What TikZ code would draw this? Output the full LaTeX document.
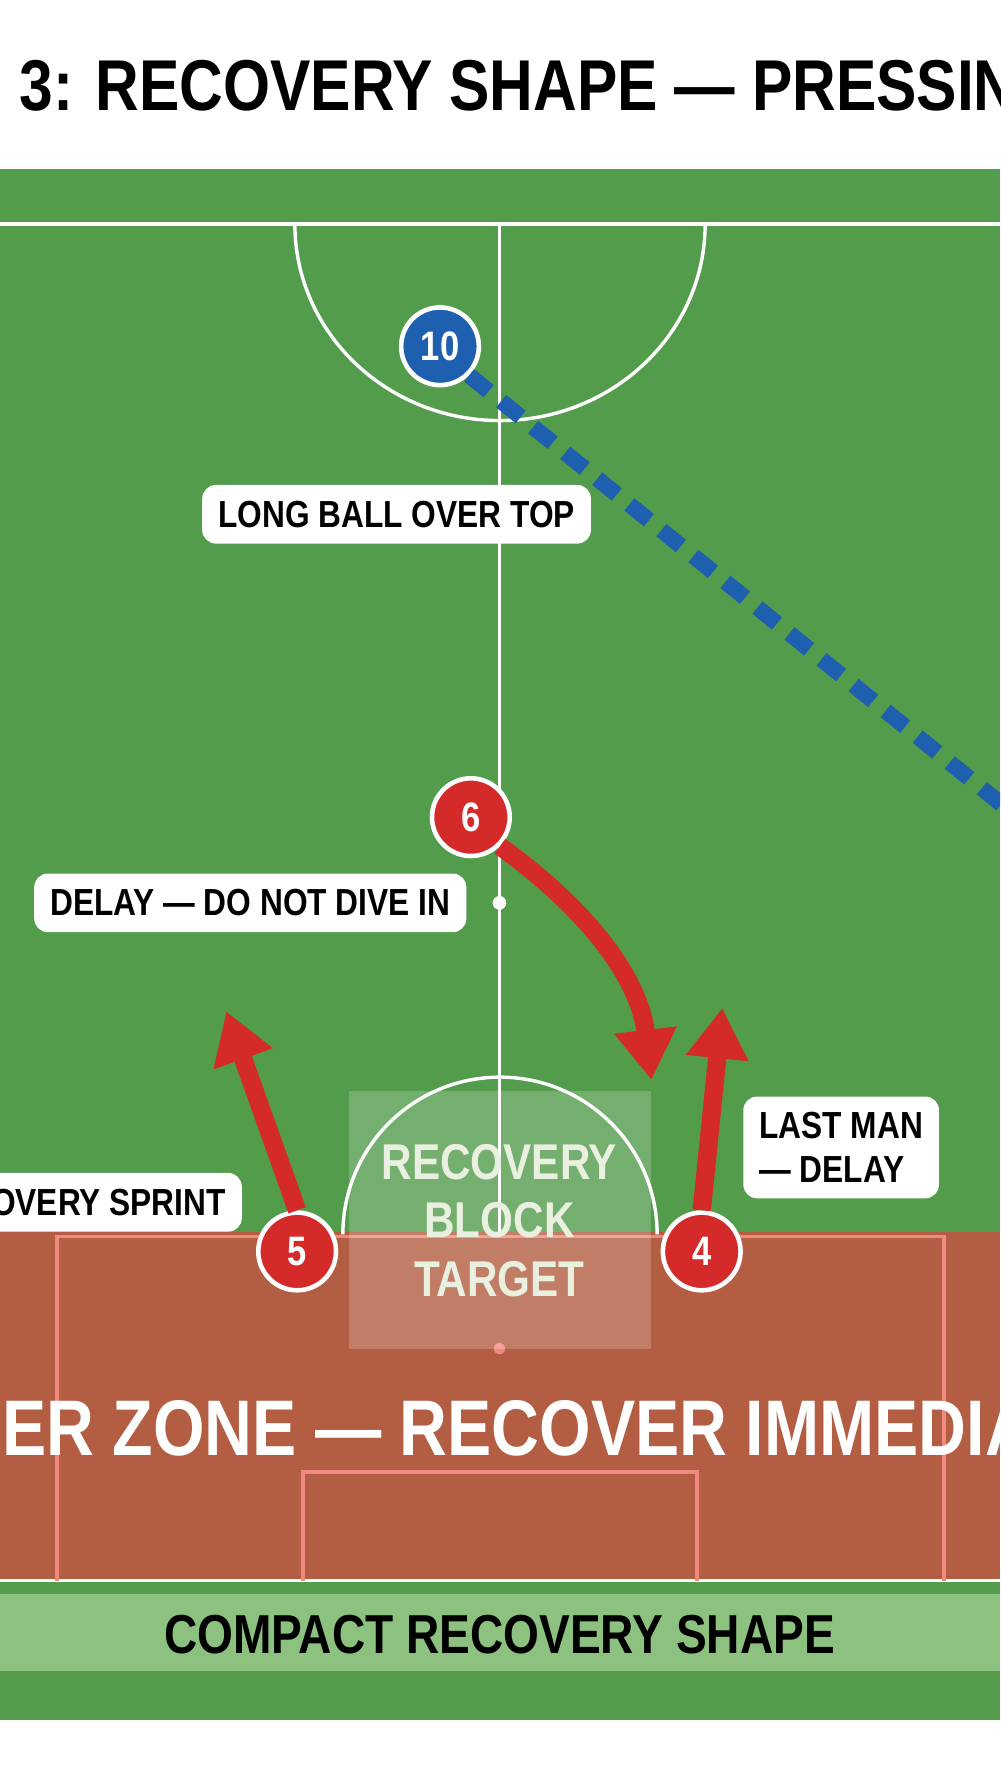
\documentclass[tikz,border=0pt]{standalone}
\usepackage{fontspec}
\setmainfont[FakeStretch=0.84]{Liberation Sans}
\usetikzlibrary{arrows.meta}
\definecolor{field}{HTML}{529C4B}
\definecolor{stripe}{HTML}{8DC17F}
\definecolor{danger}{HTML}{B35D42}
\definecolor{pink}{HTML}{F08A80}
\definecolor{pred}{HTML}{D42A2A}
\definecolor{pblue}{HTML}{1F5FB0}
\definecolor{tgt}{HTML}{EAF0DF}
\tikzset{
  lbl/.style={fill=white,rounded corners=6pt,inner xsep=7pt,inner ysep=7pt,font=\fontsize{16.5}{19}\selectfont\bfseries,align=left},
  pl/.style={circle,draw=white,line width=2pt,minimum size=34pt,inner sep=0pt,text=white,font=\fontsize{18}{18}\selectfont\bfseries},
  arr/.style={pred,line width=8pt,-{Triangle[length=22pt,width=26pt]}},
  wl/.style={white,line width=1.5pt}
}
\begin{document}
\begin{tikzpicture}[x=0.5pt,y=-0.5pt]
\useasboundingbox (0,0) rectangle (875,1568);
\clip (0,0) rectangle (875,1568);
\fill[white] (0,0) rectangle (875,1568);
\node[anchor=west,font=\fontsize{31.5}{34}\selectfont\bfseries] (title) at (10,75) {3: RECOVERY SHAPE — PRESSING};
\fill[field] (0,148) rectangle (875,1505);
\fill[danger] (0,1078) rectangle (875,1383);
\fill[stripe] (0,1395) rectangle (875,1462);
\node[font=\fontsize{24}{26}\selectfont\bfseries] (compact) at (437,1430) {COMPACT RECOVERY SHAPE};
% lines
\draw[wl] (0,196) -- (875,196);
\draw[wl] (0,1383) -- (875,1383);
\draw[wl] (437,196) -- (437,1080);
\draw[wl] (258,196) arc[start angle=180,end angle=0,x radius=179.5,y radius=172];
\fill[white] (437,790) circle (6);
\draw[pink,line width=1.5pt] (50,1383) -- (50,1082) -- (826,1082) -- (826,1383);
\draw[pink,line width=1.5pt] (265,1383) -- (265,1288) -- (610,1288) -- (610,1383);
\draw[wl] (300,1080) arc[start angle=180,end angle=360,radius=137.5];
\fill[pink] (437,1180) circle (5);
\node[font=\fontsize{34.5}{37}\selectfont\bfseries,text=white] (danger) at (437,1250) {DANGER ZONE — RECOVER IMMEDIATELY};
% target block
\fill[white,opacity=0.2] (305,955) rectangle (570,1180);
\node[align=center,text=tgt,font=\fontsize{22}{25.5}\selectfont\bfseries] (target) at (437,1068) {RECOVERY\\BLOCK\\TARGET};
% players
\node[pl,fill=pblue] (p10) at (385,303) {10};
\node[pl,fill=pred] (p6) at (412,715) {6};
\node[pl,fill=pred] (p5) at (260,1095) {5};
\node[pl,fill=pred] (p4) at (614,1095) {4};
\coordinate (ballend) at (940,755);
\draw[pblue,line width=7pt,dash pattern=on 11pt off 7pt] (p10.south east) -- (ballend);
\coordinate (t6) at (570,945);
\coordinate (t5) at (198,885);
\coordinate (t4) at (632,882);
\draw[arr] (p6.south east) .. controls (520,800) and (560,860) .. (t6);
\draw[arr] (p5.north) -- (t5);
\draw[arr] (p4.north) -- (t4);
% labels
\node[lbl] (l1) at (347,450) {LONG BALL OVER TOP};
\node[lbl] (l2) at (219,790) {DELAY — DO NOT DIVE IN};
\node[lbl,anchor=east] (l3) at (212,1052) {RECOVERY SPRINT};
\node[lbl] (l4) at (736,1004) {LAST MAN\\— DELAY};
\end{tikzpicture}
\end{document}
